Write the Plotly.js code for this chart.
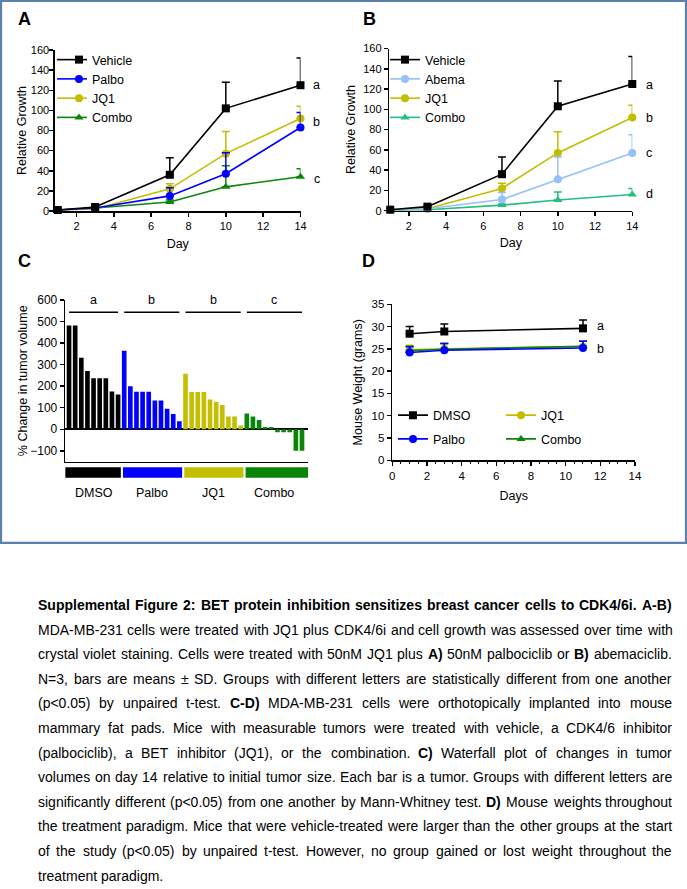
<!DOCTYPE html>
<html><head><meta charset="utf-8">
<script src="https://cdn.plot.ly/plotly-3.0.1.min.js"></script>
<style>html,body{margin:0;padding:0;background:#fff;} #chart{width:687px;height:889px;}</style>
</head><body><div id="chart"></div>
<script>
// ---------------- DATA ----------------
const days = [1, 3, 7, 10, 14];
// Panel A
const vehicleA = [1, 4, 36, 102, 125];
const vehicleAErr = [0.5, 1.5, 17, 26, 27];
const palboA = [1, 3, 15, 37, 83];
const palboAErr = [0.3, 1, 8, 21, 15];
const jq1A = [1, 2, 22, 57, 92];
const jq1AErr = [0.3, 0.5, 5, 22, 12];
const comboA = [1, 3, 9, 24, 34];
const comboAErr = [0.3, 0.5, 2, 21, 8];
const lettersA = ['a', 'b', 'c'];
const lettersAY = [125, 88, 32];
// Panel B
const vehicleB = [1, 4, 36, 103, 125];
const vehicleBErr = [0.5, 1.5, 17, 25, 27];
const abemaB = [1, 2, 11, 31, 57];
const abemaBErr = [0.3, 0.5, 7, 22, 18];
const jq1B = [1, 2, 22, 57, 92];
const jq1BErr = [0.3, 0.5, 5, 21, 12];
const comboB = [0.5, 1, 5.5, 10.5, 16];
const comboBErr = [0.2, 0.3, 1, 8, 6];
const lettersB = ['a', 'b', 'c', 'd'];
const lettersBY = [124, 91, 57, 16];
// Panel C (waterfall, % change in tumor volume)
const waterfallGroups = ['DMSO', 'Palbo', 'JQ1', 'Combo'];
const dmsoC = [482, 482, 332, 271, 237, 237, 237, 175, 161];
const palboC = [364, 200, 174, 174, 174, 134, 134, 95, 71, 37];
const jq1C = [258, 173, 173, 173, 138, 128, 113, 59, 59, 17];
const comboC = [73, 59, 43, 11, 11, -14, -14, -14, -100, -100];
const groupLetters = ['a', 'b', 'b', 'c'];
// Panel D (mouse weight)
const weightDays = [1, 3, 11];
const dmsoD = [28.4, 28.9, 29.6];
const dmsoDErr = [1.6, 1.7, 1.9];
const palboD = [24.2, 24.7, 25.2];
const palboDErr = [1.3, 1.5, 1.5];
const jq1D = [24.8, 25.0, 25.5];
const jq1DErr = [1.0, 1.2, 1.2];
const comboD = [24.6, 24.9, 25.6];
const comboDErr = [1.0, 1.3, 1.1];
const lettersD = ['a', 'b'];
const lettersDY = [30.1, 24.9];

// Caption (words wrapped in * are bold; first line fully bold)
const captionLines = [
  'Supplemental Figure 2: BET protein inhibition sensitizes breast cancer cells to CDK4/6i. A-B)',
  'MDA-MB-231 cells were treated with JQ1 plus CDK4/6i and cell growth was assessed over time with',
  'crystal violet staining. Cells were treated with 50nM JQ1 plus *A)* 50nM palbociclib or *B)* abemaciclib.',
  'N=3, bars are means ± SD. Groups with different letters are statistically different from one another',
  '(p<0.05) by unpaired t-test. *C-D)* MDA-MB-231 cells were orthotopically implanted into mouse',
  'mammary fat pads. Mice with measurable tumors were treated with vehicle, a CDK4/6 inhibitor',
  '(palbociclib), a BET inhibitor (JQ1), or the combination. *C)* Waterfall plot of changes in tumor',
  'volumes on day 14 relative to initial tumor size. Each bar is a tumor. Groups with different letters are',
  'significantly different (p<0.05) from one another by Mann-Whitney test. *D)* Mouse weights throughout',
  'the treatment paradigm. Mice that were vehicle-treated were larger than the other groups at the start',
  'of the study (p<0.05) by unpaired t-test. However, no group gained or lost weight throughout the',
  'treatment paradigm.'
];

// ---------------- STYLE / LAYOUT HELPERS ----------------
const W = 687, H = 889;
const F = '"Liberation Sans", Arial, sans-serif';
const CF = '"Liberation Sans", Arial, sans-serif';
const px = v => v / W;
const py = v => 1 - v / H;

const BLACK = '#000000', BLUE = '#0000ff', YEL = '#c4bd00', GRN = '#0a870a',
      LBLUE = '#96c0f8', MINT = '#22bf7e';

function growth(name, x, y, err, color, symbol, xa, ya, legend, rank, size) {
  return {
    type: 'scatter', mode: 'lines+markers', name, x, y, xaxis: xa, yaxis: ya,
    legend, legendrank: rank, legendgroup: legend + name,
    line: {color, width: 1.6}, marker: {color, symbol, size: size || 8},
    error_y: {type: 'data', symmetric: false, array: err, arrayminus: err.map(() => 0),
              color, thickness: 1.5, width: 4},
    cliponaxis: false, hoverinfo: 'skip'
  };
}

const traces = [];
// Panel A (draw combo first so vehicle is on top)
traces.push(growth('Combo', days, comboA, comboAErr, GRN, 'triangle-up', 'x', 'y', 'legend', 4));
traces.push(growth('JQ1', days, jq1A, jq1AErr, YEL, 'circle', 'x', 'y', 'legend', 3));
traces.push(growth('Palbo', days, palboA, palboAErr, BLUE, 'circle', 'x', 'y', 'legend', 2));
traces.push(growth('Vehicle', days, vehicleA, vehicleAErr, BLACK, 'square', 'x', 'y', 'legend', 1));
// Panel B
traces.push(growth('Combo', days, comboB, comboBErr, MINT, 'triangle-up', 'x2', 'y2', 'legend2', 4));
traces.push(growth('JQ1', days, jq1B, jq1BErr, YEL, 'circle', 'x2', 'y2', 'legend2', 3));
traces.push(growth('Abema', days, abemaB, abemaBErr, LBLUE, 'circle', 'x2', 'y2', 'legend2', 2));
traces.push(growth('Vehicle', days, vehicleB, vehicleBErr, BLACK, 'square', 'x2', 'y2', 'legend2', 1));
// Panel C
const groupVals = [dmsoC, palboC, jq1C, comboC];
const groupColors = [BLACK, BLUE, '#c4bf00', '#0a850a'];
const groupStart = [], groupEnd = [];
let idx = 0;
groupVals.forEach((vals, g) => {
  const xs = vals.map((_, i) => idx + i);
  groupStart.push(idx); groupEnd.push(idx + vals.length - 1);
  traces.push({type: 'bar', name: waterfallGroups[g], x: xs, y: vals, xaxis: 'x3', yaxis: 'y3',
    width: 0.76, marker: {color: groupColors[g], line: {width: 0}}, showlegend: false, hoverinfo: 'skip'});
  idx += vals.length;
});
// Panel D (draw order: JQ1, Combo, Palbo, DMSO)
traces.push(growth('JQ1', weightDays, jq1D, jq1DErr, YEL, 'circle', 'x4', 'y4', 'legend4', 1));
traces.push(growth('Combo', weightDays, comboD, comboDErr, GRN, 'triangle-up', 'x4', 'y4', 'legend4', 2));
traces.push(growth('Palbo', weightDays, palboD, palboDErr, BLUE, 'circle', 'x4', 'y4', 'legend3', 2));
traces.push(growth('DMSO', weightDays, dmsoD, dmsoDErr, BLACK, 'square', 'x4', 'y4', 'legend3', 1));

const axBase = {
  showline: true, linecolor: BLACK, linewidth: 1.6, ticks: 'outside', ticklen: 4, tickwidth: 1.5,
  tickcolor: BLACK, showgrid: false, zeroline: false, fixedrange: true,
  tickfont: {family: F, size: 11, color: BLACK}
};
const titleFont = {family: F, size: 12.5, color: BLACK};
function ax(extra) { return Object.assign({}, axBase, extra); }

const annotations = [];
const shapes = [];
// Panel letters
[['A', 24.5, 18.5], ['B', 369, 18.5], ['C', 24.5, 261], ['D', 368, 261]].forEach(([t, x, y]) => {
  annotations.push({text: '<b>' + t + '</b>', xref: 'paper', yref: 'paper', x: px(x), y: py(y),
    xanchor: 'center', yanchor: 'middle', showarrow: false, font: {family: F, size: 18, color: BLACK}});
});
// significance letters A, B, D
lettersA.forEach((l, i) => annotations.push({text: l, xref: 'paper', x: px(316.5), yref: 'y', y: lettersAY[i],
  showarrow: false, xanchor: 'center', yanchor: 'middle', font: {family: F, size: 12.5, color: BLACK}}));
lettersB.forEach((l, i) => annotations.push({text: l, xref: 'paper', x: px(649), yref: 'y2', y: lettersBY[i],
  showarrow: false, xanchor: 'center', yanchor: 'middle', font: {family: F, size: 12.5, color: BLACK}}));
lettersD.forEach((l, i) => annotations.push({text: l, xref: 'paper', x: px(600), yref: 'y4', y: lettersDY[i],
  showarrow: false, xanchor: 'center', yanchor: 'middle', font: {family: F, size: 12.5, color: BLACK}}));
// Panel C decorations
waterfallGroups.forEach((g, i) => {
  const c = (groupStart[i] + groupEnd[i]) / 2;
  shapes.push({type: 'line', xref: 'x3', yref: 'y3', x0: groupStart[i], x1: groupEnd[i], y0: 543, y1: 543,
    line: {color: BLACK, width: 1.5}});
  annotations.push({text: groupLetters[i], xref: 'x3', x: c, yref: 'paper', y: py(299.5), showarrow: false,
    xanchor: 'center', yanchor: 'middle', font: {family: F, size: 12.5, color: BLACK}});
  shapes.push({type: 'rect', xref: 'x3', yref: 'paper',
    x0: i === 0 ? -0.65 : groupStart[i] - 0.2, x1: i === 3 ? 39.03 : groupEnd[i] + 0.45,
    y0: py(477.7), y1: py(467.3), fillcolor: groupColors[i], line: {width: 0}});
  annotations.push({text: g, xref: 'x3', x: c, yref: 'paper', y: py(493), showarrow: false,
    xanchor: 'center', yanchor: 'middle', font: {family: F, size: 12.5, color: BLACK}});
});
// Figure border
shapes.push({type: 'rect', xref: 'paper', yref: 'paper', x0: px(1), x1: px(686), y0: py(1), y1: py(542.8),
  line: {color: '#5b80ae', width: 2.2}, fillcolor: 'rgba(0,0,0,0)'});

// Caption: justified lines (words measured on a canvas, slightly narrowed after drawing)
const cctx = document.createElement('canvas').getContext('2d');
const capFS = 14;
let capSX = 1;
function wWidth(word, bold) {
  cctx.font = (bold ? 'bold ' : '') + capFS + 'px ' + CF;
  return cctx.measureText(word).width;
}
const capLeft = 38, capRight = 672, capTop = 605, capStep = 24.6;
function parseLine(line, li) {
  return line.split(' ').map(w => {
    let bold = li === 0;
    if (/^\*.*\*$/.test(w)) { bold = true; w = w.slice(1, -1); }
    return {w, bold};
  });
}
(function fitScale() {
  let maxNat = 0;
  captionLines.forEach((line, li) => {
    if (li === captionLines.length - 1) return;
    const ws = parseLine(line, li);
    const nat = ws.reduce((s, o) => s + wWidth(o.w, o.bold), 0) + wWidth(' ', li === 0) * (ws.length - 1);
    maxNat = Math.max(maxNat, nat);
  });
  const avail = capRight - capLeft;
  capSX = Math.min(1, avail * 0.99 / maxNat);
})();
const esc = s => s.replace(/&/g, '&amp;').replace(/</g, '&lt;').replace(/>/g, '&gt;');
const captionAnnIdx = [];
captionLines.forEach((line, li) => {
  const ws = parseLine(line, li);
  const widths = ws.map(o => wWidth(o.w, o.bold) * capSX);
  const total = widths.reduce((a, b) => a + b, 0);
  const last = li === captionLines.length - 1;
  const gap = last ? wWidth(' ', false) * capSX : (capRight - capLeft - total) / (ws.length - 1);
  let x = capLeft;
  const y = capTop + li * capStep;
  ws.forEach((o, i) => {
    captionAnnIdx.push(annotations.length);
    annotations.push({text: o.bold ? '<b>' + esc(o.w) + '</b>' : esc(o.w), xref: 'paper', yref: 'paper',
      x: px(x + widths[i] / 2), y: py(y), xanchor: 'center', yanchor: 'middle', showarrow: false,
      borderpad: 0, borderwidth: 0, font: {family: CF, size: capFS, color: BLACK}});
    x += widths[i] + gap;
  });
});

const legBase = {bgcolor: 'rgba(0,0,0,0)', borderwidth: 0, xanchor: 'left', yanchor: 'top',
  font: {family: F, size: 12.5, color: BLACK}, tracegroupgap: 0, itemclick: false, itemdoubleclick: false};

const layout = {
  width: W, height: H, margin: {l: 0, r: 0, t: 0, b: 0}, paper_bgcolor: '#ffffff', plot_bgcolor: 'rgba(0,0,0,0)',
  barmode: 'overlay', hovermode: false, dragmode: false,
  xaxis: ax({domain: [px(55), px(300.5)], range: [0.85, 14], tickvals: [2, 4, 6, 8, 10, 12, 14], anchor: 'y',
    title: {text: 'Day', font: titleFont, standoff: 8}}),
  yaxis: ax({domain: [py(211), py(50)], range: [0, 160], dtick: 20, anchor: 'x', ticklabelstandoff: -2,
    title: {text: 'Relative Growth', font: titleFont, standoff: 1}}),
  xaxis2: ax({domain: [px(389.3), px(632.3)], range: [0.95, 14], tickvals: [2, 4, 6, 8, 10, 12, 14], anchor: 'y2',
    title: {text: 'Day', font: titleFont, standoff: 8}}),
  yaxis2: ax({domain: [py(210.7), py(48.5)], range: [0, 160], dtick: 20, anchor: 'x2',
    title: {text: 'Relative Growth', font: titleFont, standoff: 5}}),
  xaxis3: ax({domain: [px(65.3), px(308.3)], range: [-0.61, 39.03], ticks: '', showticklabels: false, anchor: 'y3'}),
  yaxis3: ax({domain: [py(461.6), py(300)], range: [-150, 600], tickvals: [-100, 0, 100, 200, 300, 400, 500, 600],
    anchor: 'x3', zeroline: true, zerolinecolor: BLACK, zerolinewidth: 1.6,
    tickfont: {family: F, size: 12, color: BLACK},
    title: {text: '% Change in tumor volume', font: titleFont, standoff: 0}}),
  xaxis4: ax({domain: [px(392.3), px(635)], range: [0, 14], dtick: 2, anchor: 'y4',
    tickfont: {family: F, size: 11.5, color: BLACK},
    minor: {dtick: 0.5, ticks: 'outside', ticklen: 2, tickwidth: 1, tickcolor: BLACK},
    title: {text: 'Days', font: titleFont, standoff: 10}}),
  yaxis4: ax({domain: [py(460.3), py(304.3)], range: [0, 35], dtick: 5, anchor: 'x4',
    tickfont: {family: F, size: 11.5, color: BLACK},
    title: {text: 'Mouse Weight (grams)', font: titleFont, standoff: 6}}),
  legend: Object.assign({}, legBase, {x: px(52), y: py(45)}),
  legend2: Object.assign({}, legBase, {x: px(385), y: py(45)}),
  legend3: Object.assign({}, legBase, {x: px(393), y: py(400.5), tracegroupgap: 4.5}),
  legend4: Object.assign({}, legBase, {x: px(501), y: py(400.5), tracegroupgap: 4.5}),
  annotations, shapes, showlegend: true
};

Plotly.newPlot('chart', traces, layout, {staticPlot: true, displayModeBar: false}).then(gd => {
  // shorter legend sample lines, closer to the label (as in the original figure)
  gd.querySelectorAll('.legend .legendsymbols').forEach(g => {
    g.setAttribute('transform', 'translate(7,0)');
    const p = g.querySelector('.legendlines path');
    if (p) p.setAttribute('d', 'M11,0h18');
  });
  // slightly condensed caption face: narrow each caption word around its own centre
  if (capSX < 0.999) captionAnnIdx.forEach(i => {
    const g = gd.querySelector('.annotation[data-index="' + i + '"]');
    if (!g) return;
    const t = g.querySelector('text');
    if (!t) return;
    const bb = t.getBBox();
    const cx = bb.x + bb.width / 2;
    const prev = t.getAttribute('transform') || '';
    t.setAttribute('transform', 'translate(' + cx + ',0) scale(' + capSX + ',1) translate(' + (-cx) + ',0) ' + prev);
  });
});
</script></body></html>
